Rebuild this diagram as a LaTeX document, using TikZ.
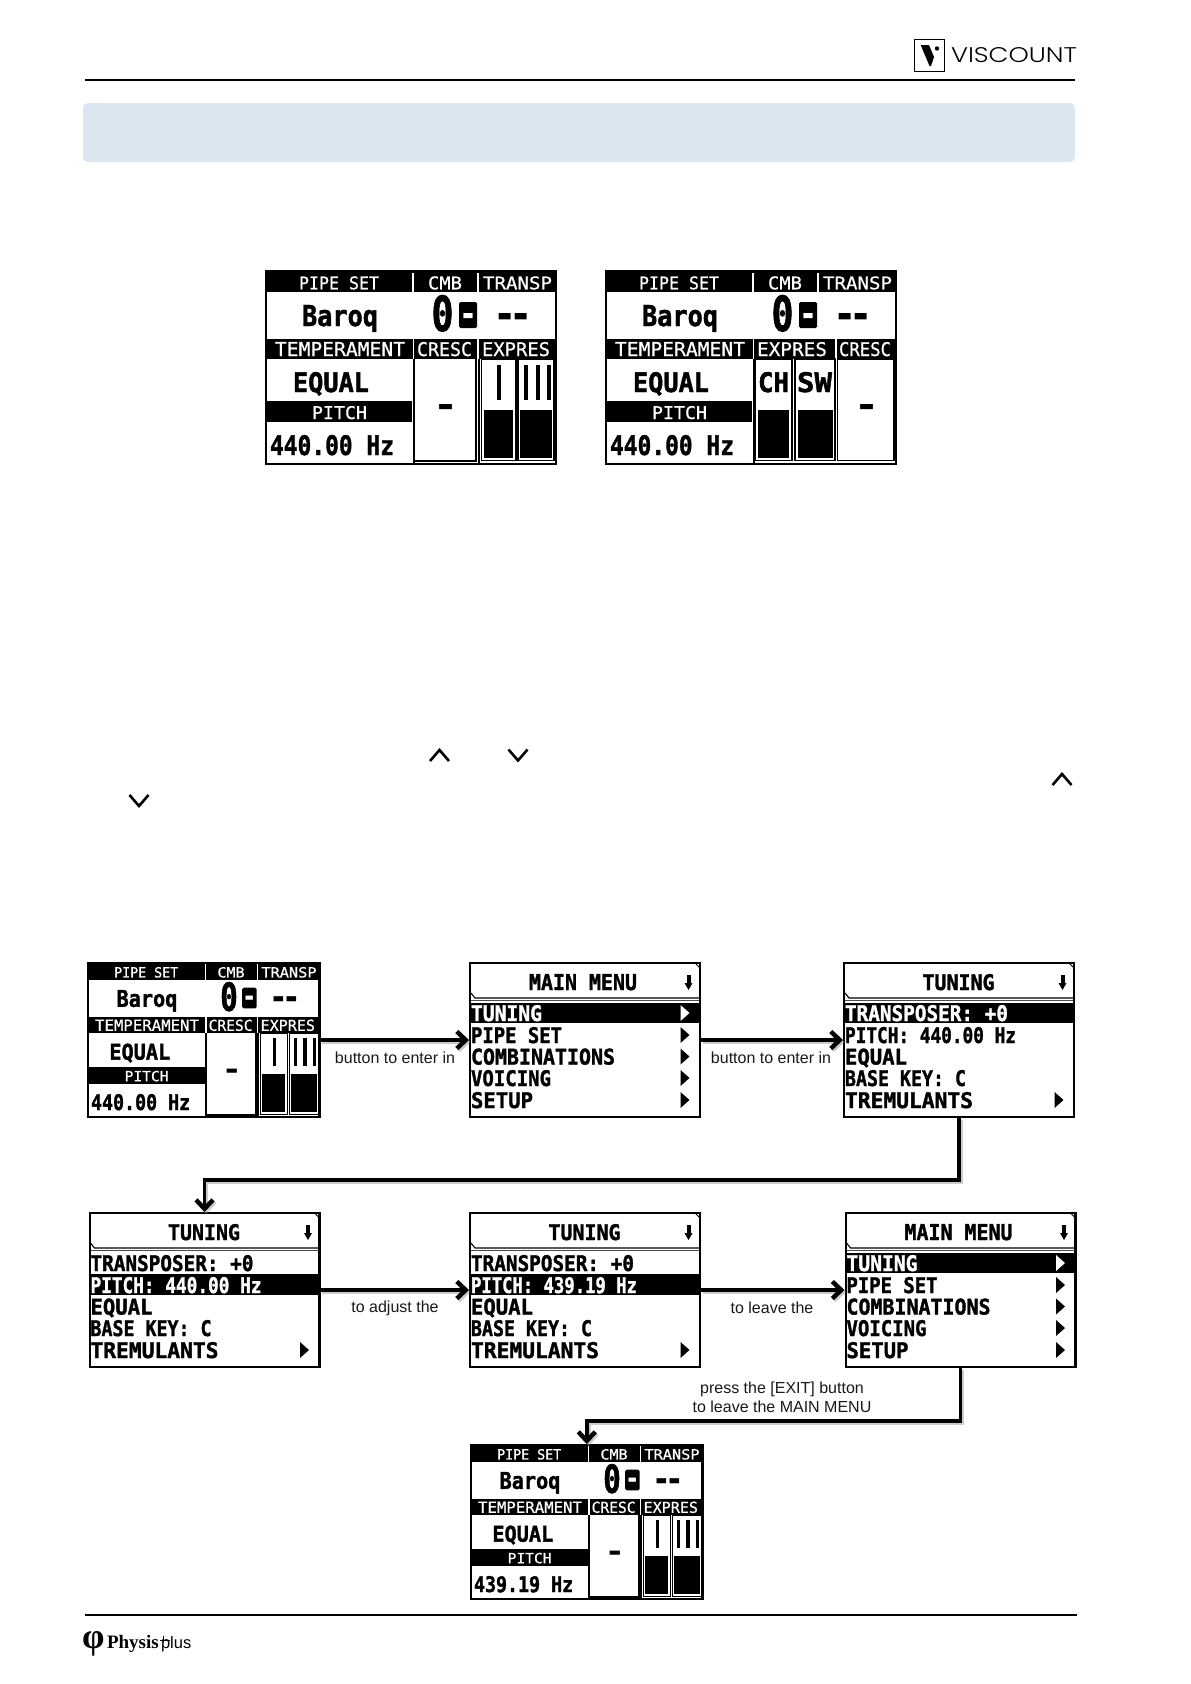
\documentclass[tikz,border=0pt]{standalone}
\usepackage{fontspec}
\usepackage{graphicx}
\usetikzlibrary{arrows.meta}
\setmainfont{Liberation Sans}
\newfontfamily\lcdfont[FakeBold=.7]{DejaVu Sans Mono}
\newfontfamily\lcdplain{DejaVu Sans Mono Bold}
\newfontfamily\lcdheavy[FakeBold=1.6]{DejaVu Sans Mono Bold}
\newfontfamily\physfont{Liberation Serif}
\newfontfamily\viscfont{Poppins Light}
\definecolor{bandblue}{HTML}{DCE6F1}
\tikzset{
  lcd/.style={inner sep=0pt,outer sep=0pt,anchor=base west,transform shape},
  thinlcd/.style={lcd,font=\lcdfont},
  boldlcd/.style={lcd,font=\lcdheavy},
  plainlcd/.style={lcd,font=\lcdplain},
  wlcd/.style={thinlcd,text=white},
  wbold/.style={boldlcd,text=white},
  wplain/.style={plainlcd,text=white},
  screenframe/.style={draw=black,line width=2.4pt,fill=white,inner sep=0pt,outer sep=1.2pt,anchor=north west,transform shape},
  blackfill/.style={fill=black},
  gaugebox/.style={draw=black,line width=1.3pt,fill=white},
  sepwhite/.style={draw=white,line width=1.4pt},
  sepblack/.style={draw=black,line width=1.6pt},
  connector/.style={draw=black,line width=3.8pt,line join=miter,
    -{Straight Barb[length=9pt,width=17pt,line width=4.4pt]},
    preaction={draw=black!45,opacity=.45,line width=4.4pt,transform canvas={xshift=1.6pt,yshift=-2pt}}},
  flowlabel/.style={inner sep=0pt,outer sep=0pt,font=\fontsize{16}{18.6}\selectfont,align=center,text=black!90},
  chevron/.style={draw=black,line width=2.6pt,line join=miter},
  rulefull/.style={draw=black},
}
% name, x, baseline, width, height, style, text
\newcommand\lcdtext[7]{\node[#6] (\scrn-#1) at (#2,#3) {\resizebox{#4pt}{#5pt}{#7}};}
\def\scrn{x}
% common upper part of a status screen
\newcommand\statustop{%
  \fill[blackfill] (0,0) rectangle (292,22);
  \fill[blackfill] (0,69) rectangle (292,89);
  \draw[sepwhite] (148,3) -- (148,22);
  \draw[sepwhite] (213,3) -- (213,22);
  \lcdtext{pipe}{34}{19.3}{80}{13}{wlcd}{PIPE SET}
  \lcdtext{cmb}{163}{19.3}{34}{13}{wlcd}{CMB}
  \lcdtext{transp}{218}{19.3}{69}{13}{wlcd}{TRANSP}
  \lcdtext{baroq}{37}{56}{76}{21}{boldlcd}{Baroq}
  \lcdtext{zero}{166.5}{61}{22}{36}{boldlcd}{0}
  \fill[blackfill,rounded corners=1.5pt] (194,32) rectangle (212,58);
  \lcdtext{dash}{194}{56}{18}{13}{wplain}{-}
  \lcdtext{dashes}{228}{59}{40}{16}{plainlcd}{{-}\kern-.17em{-}}
  \lcdtext{temp}{10}{86}{130}{14}{wlcd}{TEMPERAMENT}
  \lcdtext{equal}{28}{122}{76}{20}{boldlcd}{EQUAL}
  \fill[blackfill] (0,131) rectangle (147,152);
  \lcdtext{pitch}{47}{149}{55}{13}{wlcd}{PITCH}
}
% name x y scale pitch pitchwidth
\newcommand\statusA[6]{%
\begin{scope}[shift={(#2,#3)},scale=#4]
  \def\scrn{#1}
  \node[screenframe,minimum width=289.6pt,minimum height=192.6pt] (#1) at (0,0) {};
  \statustop
  \draw[sepwhite] (148.5,69) -- (148.5,89);
  \draw[sepwhite] (213,69) -- (213,89);
  \lcdtext{cresc}{152}{86}{55}{14}{wlcd}{CRESC}
  \lcdtext{expres}{217}{86}{68}{14}{wlcd}{EXPRES}
  \lcdtext{val}{5}{185}{#6}{20}{boldlcd}{#5}
  \draw[sepblack] (149,89) -- (149,193);
  \draw[sepblack] (211,89) -- (211,191) -- (149,191);
  \draw[sepblack] (214,89) -- (214,193);
  \draw[gaugebox] (216.5,89) rectangle (251,190.5);
  \draw[gaugebox] (253,89) rectangle (289,190.5);
  \fill[blackfill] (219,140) rectangle (248,188);
  \fill[blackfill] (255,140) rectangle (287,188);
  \fill[blackfill] (232,95) rectangle (236,130);
  \fill[blackfill] (259,95) rectangle (263,130);
  \fill[blackfill] (270.5,95) rectangle (274.5,130);
  \fill[blackfill] (282,95) rectangle (286,130);
  \lcdtext{cval}{168.5}{147}{25}{13}{plainlcd}{-}
\end{scope}}
% variant with the panels exchanged
\newcommand\statusB[4]{%
\begin{scope}[shift={(#2,#3)},scale=#4]
  \def\scrn{#1}
  \node[screenframe,minimum width=289.6pt,minimum height=192.6pt] (#1) at (0,0) {};
  \statustop
  \draw[sepwhite] (148.5,69) -- (148.5,89);
  \draw[sepwhite] (231,69) -- (231,89);
  \lcdtext{expres}{152}{86}{70}{14}{wlcd}{EXPRES}
  \lcdtext{cresc}{234}{86}{52}{14}{wlcd}{CRESC}
  \lcdtext{val}{5}{185}{124}{20}{boldlcd}{440.00 Hz}
  \draw[sepblack] (149,89) -- (149,193);
  \draw[gaugebox] (150.5,89) rectangle (187,190.5);
  \draw[gaugebox] (190,89) rectangle (230,190.5);
  \draw[gaugebox] (232.5,89) rectangle (289,190.5);
  \fill[blackfill] (153,140) rectangle (184,188);
  \fill[blackfill] (192.5,140) rectangle (227.5,188);
  \lcdtext{ch}{153}{122}{31}{20}{boldlcd}{CH}
  \lcdtext{sw}{192}{122}{35}{20}{boldlcd}{SW}
  \lcdtext{cval}{249}{147}{25}{13}{plainlcd}{-}
\end{scope}}
% menu screen frame with title
\newcommand\menutitle[3]{%
  \node[screenframe,minimum width=229.6pt,minimum height=153.6pt] (\scrn) at (0,0) {};
  \lcdtext{title}{#2}{28}{#3}{16}{boldlcd}{#1}
  \draw[black,line width=1.1pt] (2,31) -- (6,36) -- (230,36);
  \draw[black!70,line width=.8pt] (2,38.6) -- (230,38.6);
  \draw[black,line width=1pt] (226,1) -- (231,6);
  \fill[blackfill] (217.5,13) rectangle (221.5,22);
  \fill[blackfill] (215.5,21) -- (223.5,21) -- (219.5,28) -- cycle;
}
% row triangle at baseline; colour
\newcommand\rowtri[2]{\fill[#2] (211.5,#1-16) -- (220.5,#1-8) -- (211.5,#1) -- cycle;}
\newcommand\mainmenu[3]{%
\begin{scope}[shift={(#2,#3)}]
  \def\scrn{#1}
  \menutitle{MAIN MENU}{60}{108}
  \fill[blackfill] (0,40.5) rectangle (232,61);
  \lcdtext{r1}{2}{59}{71}{16}{wbold}{TUNING}
  \lcdtext{r2}{2}{81}{91}{16}{boldlcd}{PIPE SET}
  \lcdtext{r3}{2}{102.5}{144}{16}{boldlcd}{COMBINATIONS}
  \lcdtext{r4}{2}{124}{80}{16}{boldlcd}{VOICING}
  \lcdtext{r5}{2}{146}{62}{16}{boldlcd}{SETUP}
  \rowtri{59}{white}\rowtri{81}{black}\rowtri{102.5}{black}\rowtri{124}{black}\rowtri{146}{black}
\end{scope}}
% name x y pitch text, pitch width
\newcommand\tuningA[5]{%
\begin{scope}[shift={(#2,#3)}]
  \def\scrn{#1}
  \menutitle{TUNING}{79.5}{72}
  \fill[blackfill] (0,40.5) rectangle (232,61);
  \lcdtext{r1}{2}{59}{163}{16}{wbold}{TRANSPOSER: +0}
  \lcdtext{r2}{2}{81}{#5}{16}{boldlcd}{#4}
  \lcdtext{r3}{2}{102.5}{62}{16}{boldlcd}{EQUAL}
  \lcdtext{r4}{2}{124}{121}{16}{boldlcd}{BASE KEY: C}
  \lcdtext{r5}{2}{146}{128}{16}{boldlcd}{TREMULANTS}
  \rowtri{146}{black}
\end{scope}}
\newcommand\tuningB[5]{%
\begin{scope}[shift={(#2,#3)}]
  \def\scrn{#1}
  \menutitle{TUNING}{79.5}{72}
  \fill[blackfill] (0,62) rectangle (232,83);
  \lcdtext{r1}{2}{59}{163}{16}{boldlcd}{TRANSPOSER: +0}
  \lcdtext{r2}{2}{81}{#5}{16}{wbold}{#4}
  \lcdtext{r3}{2}{102.5}{62}{16}{boldlcd}{EQUAL}
  \lcdtext{r4}{2}{124}{121}{16}{boldlcd}{BASE KEY: C}
  \lcdtext{r5}{2}{146}{128}{16}{boldlcd}{TREMULANTS}
  \rowtri{146}{black}
\end{scope}}
\begin{document}
\begin{tikzpicture}[x=1pt,y=-1pt]
\useasboundingbox (0,0) rectangle (1191,1684);
\fill[white] (0,0) rectangle (1191,1684);
% header
\draw[rulefull,line width=2pt] (85,80) -- (1075,80);
\draw[black,line width=.8pt] (914,39) rectangle (944,71);
\fill[black] (920.7,45) -- (929,45) -- (934,57) -- (931,66) -- (929.5,66) -- cycle;
\fill[black] (937,48.5) circle (2.2);
\node[inner sep=0pt,outer sep=0pt,anchor=base west] (visc) at (951,62) {\resizebox{126pt}{15pt}{\viscfont VISCOUNT}};
\fill[bandblue,rounded corners=5pt] (83,103) rectangle (1075,162);
% top screens
\statusA{a}{265}{270}{1}{440.00 Hz}{124}
\statusB{b}{605}{270}{1}
% chevrons
\draw[chevron] (430,761) -- (439.5,750) -- (449,761);
\draw[chevron] (508.5,749.5) -- (518,760.5) -- (527.5,749.5);
\draw[chevron] (1052.5,785) -- (1062,774) -- (1071.5,785);
\draw[chevron] (129.5,795) -- (139,806) -- (148.5,795);
% row 1
\statusA{s1}{87}{962}{.8}{440.00 Hz}{124}
\mainmenu{m1}{469}{962}
\tuningA{t1}{843}{962}{PITCH: 440.00 Hz}{171}
% row 2
\tuningB{t2}{88.5}{1212}{PITCH: 440.00 Hz}{171}
\tuningB{t3}{469}{1212}{PITCH: 439.19 Hz}{166}
\mainmenu{m2}{844.5}{1212}
% bottom
\statusA{s3}{470}{1444}{.8}{439.19 Hz}{124}
% connectors
\draw[connector] (s1) -- (m1);
\draw[connector] (m1) -- (t1);
\draw[connector] (t1.south) -- ++(0,62) -| (t2.north);
\draw[connector] (t2) -- (t3);
\draw[connector] (t3) -- (m2);
\draw[connector] (m2.south) -- ++(0,53) -| (s3.north);
% labels
\node[flowlabel] (l1) at (395,1058) {button to enter in};
\node[flowlabel] (l2) at (771,1058) {button to enter in};
\node[flowlabel] (l3) at (395,1308) {to adjust the};
\node[flowlabel] (l4) at (772,1308) {to leave the};
\node[flowlabel] (l5) at (782,1397) {press the [EXIT] button\\to leave the MAIN MENU};
% footer
\draw[rulefull,line width=1.2pt] (85,1615) -- (1077,1615);
\node[inner sep=0pt,outer sep=0pt,anchor=base west,font=\physfont\bfseries\fontsize{36}{36}\selectfont] (phi) at (82,1648) {φ};
\node[inner sep=0pt,outer sep=0pt,anchor=base west,font=\physfont\bfseries\fontsize{19}{19}\selectfont] (phys) at (107,1648) {Physis};
\node[inner sep=0pt,outer sep=0pt,anchor=base west,font=\fontsize{16.5}{16.5}\selectfont] (plus) at (161,1648) {plus};
\draw[black,line width=.9pt] (160,1640.5) -- (170,1640.5);
\draw[black,line width=.9pt] (163.2,1636) -- (163.2,1642);
\end{tikzpicture}
\end{document}
